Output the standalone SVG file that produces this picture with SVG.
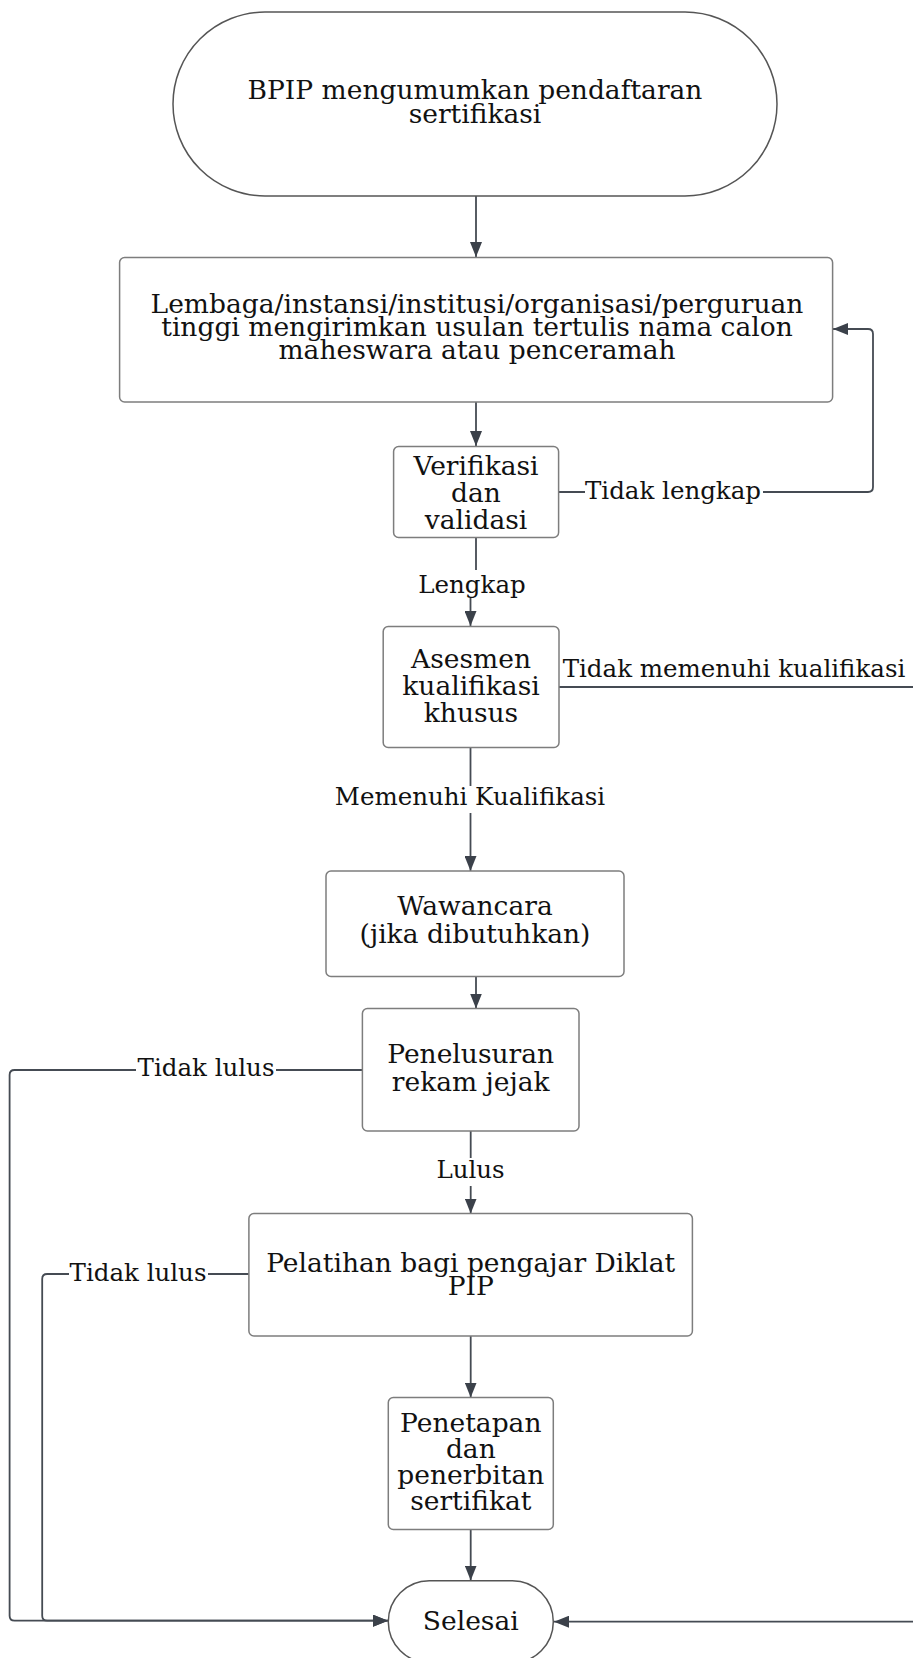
<svg xmlns="http://www.w3.org/2000/svg" width="913" height="1658" viewBox="0 0 913 1658">
<style>
.node{fill:#ffffff;stroke:#7d7d7d;stroke-width:1.5}
.term{fill:#ffffff;stroke:#555555;stroke-width:1.5}
.t{font-family:"DejaVu Serif",serif;font-size:26.5px;fill:#111111;text-anchor:middle}
.l{font-family:"DejaVu Serif",serif;font-size:24.5px;fill:#111111;text-anchor:middle}
.c{fill:none;stroke:#454b53;stroke-width:1.8}
.bg{fill:#ffffff}
</style>
<defs>
<marker id="ah" markerUnits="userSpaceOnUse" markerWidth="15" markerHeight="12" refX="15" refY="6" orient="auto">
<path d="M0,0 L15,6 L0,12 z" fill="#3b414a"/>
</marker>
</defs>
<rect width="913" height="1658" fill="#ffffff"/>
<g id="connectors">
<path class="c" d="M476 196 V257" marker-end="url(#ah)"/>
<path class="c" d="M476 402 V446" marker-end="url(#ah)"/>
<path class="c" d="M558.6 492 H868 Q873 492 873 487 V334 Q873 329 868 329 H833" marker-end="url(#ah)"/>
<path class="c" d="M476 537.5 V583 H470.5 V626" marker-end="url(#ah)"/>
<path class="c" d="M559 687 H940 V1621.7 H554" marker-end="url(#ah)"/>
<path class="c" d="M470.5 747.5 V871" marker-end="url(#ah)"/>
<path class="c" d="M476 976.5 V1008.5" marker-end="url(#ah)"/>
<path class="c" d="M362.4 1070 H14.6 Q9.6 1070 9.6 1075 V1615.7 Q9.6 1620.7 14.6 1620.7 H388" marker-end="url(#ah)"/>
<path class="c" d="M470.7 1131 V1213.5" marker-end="url(#ah)"/>
<path class="c" d="M248.9 1274 H47.2 Q42.2 1274 42.2 1279 V1615.7 Q42.2 1620.7 47.2 1620.7 H388" marker-end="url(#ah)"/>
<path class="c" d="M470.7 1336 V1397.5" marker-end="url(#ah)"/>
<path class="c" d="M470.7 1529.5 V1580.5" marker-end="url(#ah)"/>
<rect class="bg" x="585" y="478" width="178" height="28"/>
<text class="l" x="673" y="499">Tidak lengkap</text>
<rect class="bg" x="418" y="570" width="108" height="28"/>
<text class="l" x="472" y="593">Lengkap</text>
<text class="l" x="734" y="677">Tidak memenuhi kualifikasi</text>
<rect class="bg" x="334" y="786" width="272" height="27"/>
<text class="l" x="470" y="805">Memenuhi Kualifikasi</text>
<rect class="bg" x="136" y="1055" width="140" height="28"/>
<text class="l" x="206" y="1076">Tidak lulus</text>
<rect class="bg" x="433" y="1158" width="74" height="28"/>
<text class="l" x="470.5" y="1178">Lulus</text>
<rect class="bg" x="69" y="1259" width="139" height="28"/>
<text class="l" x="138" y="1281">Tidak lulus</text>
</g>
<g id="n1">
<rect class="term" x="173" y="12" width="604" height="184" rx="92" ry="92"/>
<text class="t" x="475" y="99">BPIP mengumumkan pendaftaran</text>
<text class="t" x="475" y="123">sertifikasi</text>
</g>
<g id="n2">
<rect class="node" x="119.6" y="257.5" width="713" height="144.5" rx="5"/>
<text class="t" x="477" y="313">Lembaga/instansi/institusi/organisasi/perguruan</text>
<text class="t" x="477" y="336">tinggi mengirimkan usulan tertulis nama calon</text>
<text class="t" x="477" y="359">maheswara atau penceramah</text>
</g>
<g id="n3">
<rect class="node" x="393.6" y="446.5" width="165" height="91" rx="5"/>
<text class="t" x="476" y="475">Verifikasi</text>
<text class="t" x="476" y="502">dan</text>
<text class="t" x="476" y="529">validasi</text>
</g>
<g id="n4">
<rect class="node" x="383.2" y="626.5" width="175.8" height="121" rx="5"/>
<text class="t" x="471" y="668">Asesmen</text>
<text class="t" x="471" y="695">kualifikasi</text>
<text class="t" x="471" y="722">khusus</text>
</g>
<g id="n5">
<rect class="node" x="326" y="871" width="298" height="105.5" rx="5"/>
<text class="t" x="475" y="915">Wawancara</text>
<text class="t" x="475" y="943">(jika dibutuhkan)</text>
</g>
<g id="n6">
<rect class="node" x="362.4" y="1008.5" width="216.6" height="122.5" rx="5"/>
<text class="t" x="470.7" y="1063">Penelusuran</text>
<text class="t" x="470.7" y="1091">rekam jejak</text>
</g>
<g id="n7">
<rect class="node" x="248.9" y="1213.5" width="443.5" height="122.5" rx="5"/>
<text class="t" x="470.7" y="1272">Pelatihan bagi pengajar Diklat</text>
<text class="t" x="470.7" y="1295">PIP</text>
</g>
<g id="n8">
<rect class="node" x="388.3" y="1397.5" width="165" height="132" rx="5"/>
<text class="t" x="470.8" y="1432">Penetapan</text>
<text class="t" x="470.8" y="1458">dan</text>
<text class="t" x="470.8" y="1484">penerbitan</text>
<text class="t" x="470.8" y="1510">sertifikat</text>
</g>
<g id="n9">
<rect class="term" x="388.3" y="1580.7" width="165" height="82" rx="41" ry="41"/>
<text class="t" x="470.8" y="1630">Selesai</text>
</g>
</svg>
